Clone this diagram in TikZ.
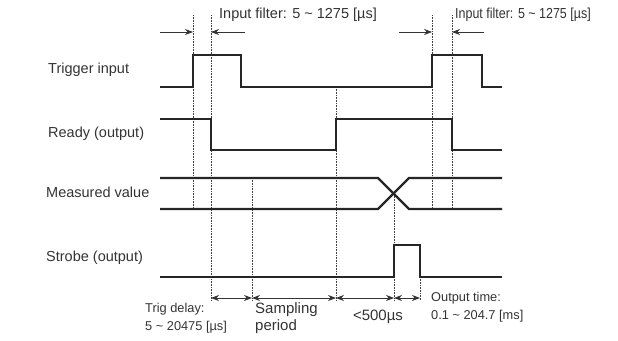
\documentclass[tikz,border=0pt]{standalone}
\usepackage{fontspec}
\setmainfont{Liberation Sans}
\usepackage{graphicx}
\usetikzlibrary{arrows.meta,positioning,calc}

\begin{document}
\begin{tikzpicture}[
  x=1pt, y=-1pt,
  every node/.style={font=\fontsize{14.5}{17}\selectfont, text=black!80, inner sep=0pt},
  sig/.style={line width=2.2pt, draw=black!85},
  guide/.style={densely dotted, line width=0.6pt, draw=black!75},
  dim/.style={{Stealth[length=8pt,width=6pt]}-{Stealth[length=8pt,width=6pt]},
              line width=0.8pt, draw=black!80},
  filt/.style={-{Stealth[length=8pt,width=6pt]}, line width=0.8pt, draw=black!80},
  lbl/.style={anchor=west},
  filtlbl/.style={anchor=west, font=\fontsize{14.5}{17}\selectfont},
  note/.style={anchor=north west, align=left, font=\fontsize{12.8}{18}\selectfont},
  bignote/.style={anchor=north west, align=left, font=\fontsize{15}{17}\selectfont},
]
  \useasboundingbox (0,0) rectangle (618,340);

  % Signal names
  \node[lbl] (trig)  at (48,70)  {Trigger input};
  \node[lbl] (ready) at (48,134) {Ready (output)};
  \node[lbl] (meas)  at (46,192) {Measured value};
  \node[lbl] (strb)  at (46,258) {Strobe (output)};

  % Dotted timing guides
  \draw[guide] (193,15) -- (193,209);
  \draw[guide] (211,15) -- (211,300);
  \draw[guide] (252,178) -- (252,300);
  \draw[guide] (336,87) -- (336,300);
  \draw[guide] (394,194) -- (394,300);
  \draw[guide] (420,245) -- (420,300);
  \draw[guide] (432,15) -- (432,209);
  \draw[guide] (452,15) -- (452,209);

  % Waveforms
  \draw[sig] (160,87) -- (193,87) -- (193,55) -- (241,55) -- (241,87)
    -- (432,87) -- (432,55) -- (482,55) -- (482,87) -- (502,87);
  \draw[sig] (160,119) -- (211,119) -- (211,150) -- (336,150) -- (336,119)
    -- (452,119) -- (452,150) -- (502,150);
  \draw[sig] (160,178) -- (378,178) -- (409,209) -- (502,209);
  \draw[sig] (160,209) -- (378,209) -- (409,178) -- (502,178);
  \draw[sig] (160,277) -- (394,277) -- (394,245) -- (420,245) -- (420,277) -- (502,277);

  % Input filter marks
  \coordinate (fa0) at (160,32);  \coordinate (fa1) at (193,32);
  \coordinate (fa2) at (211,32);  \coordinate (fa3) at (245,32);
  \coordinate (fb0) at (399,32);  \coordinate (fb1) at (432,32);
  \coordinate (fb2) at (452,32);  \coordinate (fb3) at (484,32);
  \draw[filt] (fa0) -- (fa1);
  \draw[filt] (fa3) -- (fa2);
  \draw[filt] (fb0) -- (fb1);
  \draw[filt] (fb3) -- (fb2);
  \node[filtlbl] (filta) at (219,15)
    {Input filter: 5 \textasciitilde{} 1275 [µs]};
  \node[filtlbl] (filtb) at (455,15)
    {\scalebox{0.86}[1]{Input filter: 5 \textasciitilde{} 1275 [µs]}};

  % Durations along the bottom
  \coordinate (d0) at (211,298);
  \coordinate (d1) at (252,298);
  \coordinate (d2) at (336,298);
  \coordinate (d3) at (394,298);
  \coordinate (d4) at (420,298);
  \draw[dim] (d0) -- (d1);
  \draw[dim] (d1) -- (d2);
  \draw[dim] (d2) -- (d3);
  \draw[dim] (d3) -- (d4);

  \node[note] (delay) at (145,303) {Trig delay:\\5 \textasciitilde{} 20475 [µs]};
  \node[bignote] (samp) at (255,302) {Sampling\\period};
  \node[font=\fontsize{15}{17}\selectfont] (lt500) at (378,317) {<500µs};
  \node[note] (outt) at (431,292) {Output time:\\0.1 \textasciitilde{} 204.7 [ms]};
\end{tikzpicture}
\end{document}
